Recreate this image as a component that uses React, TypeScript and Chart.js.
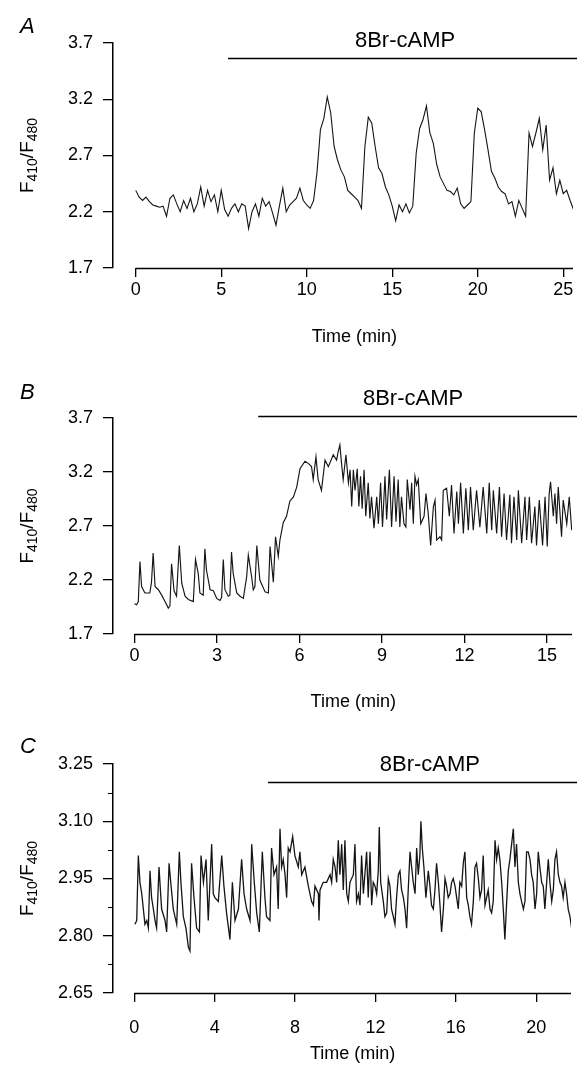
import React, { useEffect, useRef } from 'react';
import { Chart, registerables } from 'chart.js';

Chart.register(...registerables);

const FONT = '"Liberation Sans", Arial, Helvetica, sans-serif';
const DRUG_LABEL = '8Br-cAMP';
const X_TITLE = 'Time (min)';

// ---------- Panel A (sampled every 0.2 min) ----------
const A_START = 0;
const A_STEP = 0.2;
const A_VALUES = [
  2.39, 2.33, 2.30, 2.33, 2.29, 2.26, 2.25, 2.24, 2.25, 2.16,
  2.32, 2.35, 2.27, 2.20, 2.30, 2.23, 2.32, 2.20, 2.27, 2.42,
  2.25, 2.39, 2.29, 2.35, 2.20, 2.39, 2.22, 2.16, 2.23, 2.27,
  2.20, 2.27, 2.25, 2.05, 2.20, 2.27, 2.16, 2.32, 2.25, 2.29,
  2.19, 2.08, 2.25, 2.41, 2.20, 2.26, 2.29, 2.32, 2.41, 2.30,
  2.26, 2.23, 2.30, 2.55, 2.93, 3.03, 3.22, 3.08, 2.78, 2.66,
  2.57, 2.51, 2.39, 2.36, 2.33, 2.30, 2.23, 2.78, 3.04, 2.99,
  2.78, 2.59, 2.54, 2.42, 2.35, 2.25, 2.12, 2.26, 2.20, 2.27,
  2.19, 2.25, 2.72, 2.94, 3.02, 3.14, 2.90, 2.81, 2.62, 2.51,
  2.45, 2.39, 2.38, 2.35, 2.41, 2.27, 2.23, 2.26, 2.29, 2.90,
  3.12, 3.09, 2.93, 2.75, 2.56, 2.50, 2.42, 2.38, 2.36, 2.27,
  2.29, 2.16, 2.30, 2.23, 2.16, 2.90, 2.78, 2.90, 3.03, 2.75,
  2.97, 2.48, 2.59, 2.36, 2.48, 2.36, 2.39, 2.30, 2.22,
];
const A_X_TICKS = [0, 5, 10, 15, 20, 25];
const A_Y_TICKS = [1.7, 2.2, 2.7, 3.2, 3.7];

// ---------- Panel B (turning points) ----------
const B_TIMES = [
  0, 0.08, 0.14, 0.2, 0.26, 0.38, 0.56, 0.62, 0.68, 0.75,
  0.87, 0.99, 1.11, 1.23, 1.29, 1.35, 1.44, 1.53, 1.63, 1.72,
  1.84, 1.96, 2.14, 2.22, 2.32, 2.38, 2.5, 2.56, 2.62, 2.75,
  2.87, 2.99, 3.11, 3.17, 3.23, 3.29, 3.41, 3.47, 3.53, 3.59,
  3.72, 3.84, 3.96, 4.08, 4.14, 4.26, 4.32, 4.38, 4.45, 4.56,
  4.75, 4.87, 4.93, 5.05, 5.13, 5.23, 5.29, 5.41, 5.53, 5.65,
  5.78, 5.9, 6.02, 6.2, 6.32, 6.44, 6.5, 6.6, 6.68, 6.8,
  6.93, 7.05, 7.23, 7.35, 7.41, 7.47,
  7.53, 7.59, 7.69, 7.78, 7.84, 7.9, 7.96, 8.02, 8.1, 8.16,
  8.22, 8.28, 8.35, 8.41, 8.5, 8.56, 8.62, 8.71, 8.81, 8.87,
  8.95, 9.02, 9.11, 9.17, 9.27, 9.35, 9.44, 9.51, 9.59, 9.65,
  9.71, 9.8, 9.87, 9.92, 10.02, 10.08, 10.14, 10.2, 10.26, 10.32,
  10.41, 10.53, 10.6, 10.68, 10.77, 10.87, 10.93, 10.99, 11.11, 11.17,
  11.23, 11.35, 11.45, 11.53, 11.62, 11.72, 11.78, 11.86, 11.96, 12.05,
  12.14, 12.22, 12.32, 12.44, 12.56, 12.68, 12.81, 12.9, 12.99, 13.05,
  13.17, 13.27, 13.35, 13.44, 13.53, 13.65, 13.71, 13.8, 13.9, 13.96,
  14.08, 14.2, 14.26, 14.36, 14.44, 14.56, 14.62, 14.72, 14.84, 14.93,
  15.01, 15.08, 15.13, 15.23, 15.29, 15.35, 15.41, 15.53, 15.59, 15.72,
  15.81, 15.9,
];
const B_VALUES = [
  1.98, 1.97, 2.00, 2.37, 2.14, 2.08, 2.08, 2.18, 2.45, 2.14,
  2.11, 2.06, 2.00, 1.94, 1.96, 2.35, 2.10, 2.05, 2.52, 2.17,
  2.05, 2.02, 2.00, 2.39, 2.26, 2.08, 2.06, 2.49, 2.29, 2.11,
  2.10, 2.03, 2.01, 2.04, 2.39, 2.11, 2.05, 2.06, 2.46, 2.26,
  2.08, 2.05, 2.03, 2.23, 2.43, 2.23, 2.11, 2.14, 2.52, 2.20,
  2.09, 2.08, 2.51, 2.18, 2.60, 2.42, 2.57, 2.73, 2.79, 2.93,
  2.97, 3.06, 3.23, 3.30, 3.28, 3.25, 3.13, 3.34, 3.13, 3.03,
  3.31, 3.25, 3.36, 3.31, 3.39, 3.45,
  3.28, 3.13, 3.36, 3.10, 3.22, 2.88, 3.22, 3.03, 3.23, 2.88,
  3.16, 2.86, 3.22, 2.79, 3.10, 2.77, 2.97, 2.68, 2.97, 2.72,
  3.10, 2.69, 3.16, 2.76, 3.22, 2.69, 3.16, 2.74, 3.13, 2.69,
  2.97, 2.72, 2.69, 3.13, 2.85, 3.10, 2.72, 3.16, 3.08, 3.13,
  2.72, 2.79, 3.00, 2.82, 2.52, 2.88, 2.94, 2.57, 2.60, 2.57,
  3.03, 3.05, 2.79, 3.08, 2.63, 3.02, 2.72, 3.10, 2.63, 3.05,
  2.66, 3.06, 2.66, 3.03, 2.69, 3.06, 2.63, 3.10, 2.66, 3.03,
  2.63, 3.06, 2.60, 3.00, 2.57, 2.99, 2.54, 2.97, 2.57, 3.03,
  2.54, 2.97, 2.57, 2.97, 2.54, 2.88, 2.52, 2.94, 2.52, 2.97,
  2.51, 3.00, 3.11, 2.79, 3.00, 2.72, 3.06, 2.60, 2.94, 2.72,
  2.97, 2.66,
];
const B_X_TICKS = [0, 3, 6, 9, 12, 15];
const B_Y_TICKS = [1.7, 2.2, 2.7, 3.2, 3.7];

// ---------- Panel C (turning points) ----------
const C_TIMES = [
  0.03, 0.12, 0.2, 0.28, 0.37, 0.45, 0.53, 0.62, 0.7, 0.78,
  0.86, 0.95, 1.03, 1.11, 1.23, 1.31, 1.36, 1.53, 1.61, 1.73,
  1.83, 1.94, 2.11, 2.24, 2.32, 2.44, 2.57, 2.69, 2.77, 2.85,
  2.97, 3.1, 3.24, 3.32, 3.44, 3.57, 3.68, 3.85, 3.93, 4.01,
  4.18, 4.35, 4.46, 4.59, 4.76, 4.88, 5.01, 5.18, 5.34, 5.46,
  5.59, 5.76, 5.84, 5.97, 6.09, 6.22, 6.37, 6.5, 6.58, 6.75,
  6.83, 6.95, 7.08, 7.16, 7.25, 7.33, 7.41, 7.5, 7.58, 7.66,
  7.75, 7.88, 7.99, 8.16,
  8.24, 8.33, 8.49, 8.66, 8.82, 8.91, 8.99, 9.16, 9.19, 9.24,
  9.4, 9.57, 9.74, 9.82, 9.9, 9.99, 10.07, 10.15, 10.23, 10.32,
  10.4, 10.48, 10.57, 10.65, 10.73, 10.9, 10.98, 11.06, 11.15, 11.23,
  11.31, 11.4, 11.56, 11.64, 11.73, 11.81, 11.89, 11.98, 12.06, 12.14,
  12.19, 12.26, 12.39, 12.47, 12.56, 12.64, 12.72, 12.8, 12.89, 12.97,
  13.05, 13.14, 13.22, 13.3, 13.39, 13.47, 13.55, 13.63, 13.72, 13.8,
  13.88, 13.97, 14.05, 14.13, 14.21, 14.26, 14.33, 14.41, 14.51, 14.63,
  14.71, 14.79, 14.88, 14.96, 15.04, 15.13, 15.21, 15.29, 15.38, 15.46,
  15.54, 15.62, 15.71, 15.79, 15.87, 15.96, 16.04, 16.12, 16.2, 16.29,
  16.37, 16.45, 16.54, 16.62, 16.7, 16.78, 16.87, 16.95, 17.03, 17.12,
  17.2, 17.28, 17.36, 17.45, 17.53, 17.61, 17.7, 17.78, 17.86, 17.95,
  18.03, 18.11, 18.19, 18.28, 18.36, 18.44, 18.53, 18.61, 18.69, 18.86,
  18.94, 19.02, 19.11, 19.19, 19.27, 19.36, 19.44, 19.52, 19.6, 19.69,
  19.77, 19.85, 19.94, 20.02, 20.1, 20.18, 20.27, 20.35, 20.43, 20.52,
  20.6, 20.68, 20.77, 20.85, 20.93, 21.01, 21.1, 21.18, 21.26, 21.34,
  21.43, 21.51, 21.59, 21.68, 21.76,
];
const C_VALUES = [
  2.83, 2.84, 3.01, 2.94, 2.91, 2.87, 2.83, 2.84, 2.82, 2.97,
  2.90, 2.87, 2.84, 2.82, 2.98, 2.91, 2.87, 2.84, 2.81, 2.99,
  2.93, 2.87, 2.83, 3.02, 2.94, 2.85, 2.82, 2.77, 2.76, 2.99,
  2.90, 2.82, 2.81, 3.01, 2.94, 3.00, 2.84, 3.04, 2.91, 2.90,
  2.89, 3.01, 2.93, 2.86, 2.79, 2.94, 2.84, 2.87, 3.00, 2.91,
  2.87, 2.84, 3.04, 2.94, 2.86, 2.81, 3.02, 2.90, 2.85, 2.84,
  3.03, 2.96, 2.98, 2.87, 3.08, 2.98, 3.00, 2.96, 2.90, 3.03,
  3.02, 3.06, 3.01, 2.98,
  3.02, 2.96, 2.98, 2.93, 2.89, 2.88, 2.93, 2.91, 2.84, 2.92,
  2.94, 2.94, 2.96, 2.94, 3.00, 2.98, 2.94, 3.05, 2.96, 3.04,
  2.92, 3.05, 2.91, 2.89, 2.94, 2.96, 3.04, 2.89, 2.91, 2.88,
  3.01, 2.91, 3.02, 2.90, 3.02, 2.88, 2.94, 2.93, 2.91, 2.97,
  3.085, 2.94, 2.89, 2.85, 2.86, 2.95, 2.93, 2.87, 2.85, 2.83,
  2.90, 2.96, 2.97, 2.92, 2.90, 2.87, 2.82, 2.92, 3.02, 2.98,
  2.94, 2.91, 3.03, 2.96, 3.01, 3.10, 3.03, 2.98, 2.90, 2.97,
  2.93, 2.88, 2.87, 2.92, 2.99, 2.94, 2.88, 2.81, 2.87, 2.95,
  2.93, 2.90, 2.91, 2.94, 2.95, 2.93, 2.90, 2.87, 2.94, 2.93,
  2.99, 3.02, 2.90, 2.88, 2.85, 2.83, 2.89, 2.98, 2.99, 2.95,
  2.90, 2.92, 3.01, 2.88, 2.90, 2.92, 2.87, 2.86, 2.89, 3.05,
  3.00, 3.03, 3.00, 2.94, 2.87, 2.79, 2.89, 2.97, 3.00, 3.08,
  2.98, 3.04, 2.94, 2.91, 2.89, 2.87, 2.89, 3.02, 3.02, 3.00,
  2.96, 2.94, 2.87, 2.91, 3.02, 2.98, 2.94, 2.93, 2.87, 2.94,
  3.00, 2.94, 2.89, 2.92, 3.00, 3.02, 2.96, 2.94, 2.93, 2.90,
  2.94, 2.91, 2.87, 2.85, 2.82,
];
const C_X_TICKS = [0, 4, 8, 12, 16, 20];
const C_Y_TICKS = [2.65, 2.8, 2.95, 3.1, 3.25];
const C_Y_MINOR = [2.725, 2.875, 3.025, 3.175];

type Pt = { x: number; y: number };

type PanelCfg = {
  letter: string;
  top: number;
  height: number;
  points: Pt[];
  lineWidth: number;
  xMin: number;
  xMax: number;
  yMin: number;
  yMax: number;
  xTicks: number[];
  yTicks: number[];
  yMinor: number[];
  yDecimals: number;
  padTop: number;
  padRight: number;
  xAxisH: number;
  xTickPad: number;
  drugStart: number;
  drugLevel: number;
  drugLabelT: number;
  letterBaseline: number;
  xTitleY: number;
};

const pairs = (t: number[], v: number[]): Pt[] => {
  const n = Math.min(t.length, v.length);
  const out: Pt[] = [];
  for (let i = 0; i < n; i++) out.push({ x: t[i], y: v[i] });
  return out;
};

const PANELS: PanelCfg[] = [
  {
    letter: 'A', top: 0, height: 350,
    points: A_VALUES.map((v, i) => ({ x: A_START + i * A_STEP, y: v })),
    lineWidth: 1.1,
    xMin: -1.33, xMax: 25.57, yMin: 1.7, yMax: 3.7,
    xTicks: A_X_TICKS, yTicks: A_Y_TICKS, yMinor: [], yDecimals: 1,
    padTop: 43, padRight: 4, xAxisH: 82, xTickPad: 2,
    drugStart: 5.4, drugLevel: 3.567, drugLabelT: 15.75,
    letterBaseline: 33, xTitleY: 337,
  },
  {
    letter: 'B', top: 350, height: 370,
    points: pairs(B_TIMES, B_VALUES),
    lineWidth: 1.15,
    xMin: -0.78, xMax: 15.91, yMin: 1.7, yMax: 3.7,
    xTicks: B_X_TICKS, yTicks: B_Y_TICKS, yMinor: [], yDecimals: 1,
    padTop: 68, padRight: 5, xAxisH: 86, xTickPad: 2,
    drugStart: 4.5, drugLevel: 3.72, drugLabelT: 10.13,
    letterBaseline: 49, xTitleY: 352,
  },
  {
    letter: 'C', top: 720, height: 351,
    points: pairs(C_TIMES, C_VALUES),
    lineWidth: 1.3,
    xMin: -1.06, xMax: 21.73, yMin: 2.65, yMax: 3.25,
    xTicks: C_X_TICKS, yTicks: C_Y_TICKS, yMinor: C_Y_MINOR, yDecimals: 2,
    padTop: 44, padRight: 6, xAxisH: 78, xTickPad: 15,
    drugStart: 6.65, drugLevel: 3.203, drugLabelT: 14.71,
    letterBaseline: 33, xTitleY: 334,
  },
];

function extrasPlugin(p: PanelCfg) {
  return {
    id: 'extras' + p.letter,
    afterDraw(chart: any) {
      const ctx: CanvasRenderingContext2D = chart.ctx;
      const xs = chart.scales.x;
      const ys = chart.scales.y;
      const a = chart.chartArea;
      ctx.save();
      ctx.strokeStyle = '#000';
      ctx.fillStyle = '#000';

      // x axis line, starting at the first tick
      const x0 = xs.getPixelForValue(p.xTicks[0]);
      ctx.lineWidth = 1.5;
      ctx.beginPath();
      ctx.moveTo(x0, a.bottom + 0.5);
      ctx.lineTo(a.right, a.bottom + 0.5);
      ctx.stroke();

      // minor y ticks
      ctx.lineWidth = 1;
      p.yMinor.forEach((v) => {
        const y = Math.round(ys.getPixelForValue(v)) + 0.5;
        ctx.beginPath();
        ctx.moveTo(a.left - 5, y);
        ctx.lineTo(a.left, y);
        ctx.stroke();
      });

      // drug application bar
      const by = Math.round(ys.getPixelForValue(p.drugLevel)) + 0.5;
      ctx.lineWidth = 1.6;
      ctx.beginPath();
      ctx.moveTo(xs.getPixelForValue(p.drugStart), by);
      ctx.lineTo(chart.width, by);
      ctx.stroke();
      ctx.font = `22px ${FONT}`;
      ctx.textAlign = 'center';
      ctx.textBaseline = 'middle';
      ctx.fillText(DRUG_LABEL, xs.getPixelForValue(p.drugLabelT), by - 18);

      // panel letter
      ctx.font = `italic 22px ${FONT}`;
      ctx.textAlign = 'left';
      ctx.textBaseline = 'alphabetic';
      ctx.fillText(p.letter, 20, p.letterBaseline);

      // x title
      ctx.font = `18px ${FONT}`;
      ctx.textAlign = 'center';
      ctx.textBaseline = 'middle';
      ctx.fillText(X_TITLE, (x0 + a.right) / 2, p.xTitleY);

      // y title F410/F480 (rotated, with subscripts)
      const parts = [
        { t: 'F', s: 19, dy: 0 },
        { t: '410', s: 14, dy: 4 },
        { t: '/F', s: 19, dy: 0 },
        { t: '480', s: 14, dy: 4 },
      ];
      let total = 0;
      const widths = parts.map((q) => {
        ctx.font = `${q.s}px ${FONT}`;
        const w = ctx.measureText(q.t).width;
        total += w;
        return w;
      });
      ctx.translate(33, (a.top + a.bottom) / 2);
      ctx.rotate(-Math.PI / 2);
      ctx.textAlign = 'left';
      ctx.textBaseline = 'alphabetic';
      let cx = -total / 2;
      parts.forEach((q, i) => {
        ctx.font = `${q.s}px ${FONT}`;
        ctx.fillText(q.t, cx, q.dy);
        cx += widths[i];
      });
      ctx.restore();
    },
  };
}

function Panel({ cfg }: { cfg: PanelCfg }) {
  const ref = useRef<HTMLCanvasElement>(null);
  useEffect(() => {
    const canvas = ref.current;
    if (!canvas) return;
    const chart = new Chart(canvas, {
      type: 'line',
      data: {
        datasets: [
          {
            data: cfg.points as any,
            borderColor: '#151515',
            borderWidth: cfg.lineWidth,
            pointRadius: 0,
            tension: 0,
            fill: false,
          },
        ],
      },
      options: {
        responsive: false,
        animation: false,
        devicePixelRatio: 1,
        parsing: true,
        layout: { padding: { top: cfg.padTop, right: cfg.padRight, left: 0, bottom: 0 } },
        plugins: {
          legend: { display: false },
          tooltip: { enabled: false },
          title: { display: false },
        },
        scales: {
          x: {
            type: 'linear',
            min: cfg.xMin,
            max: cfg.xMax,
            border: { display: false },
            grid: {
              display: true,
              drawOnChartArea: false,
              drawTicks: true,
              tickLength: 9,
              color: '#000',
              lineWidth: 1.3,
            },
            ticks: {
              font: { family: FONT, size: 18 },
              color: '#000',
              padding: cfg.xTickPad,
              autoSkip: false,
              maxRotation: 0,
              callback: (v: any) => String(v),
            },
            afterBuildTicks: (s: any) => {
              s.ticks = cfg.xTicks.map((v) => ({ value: v }));
            },
            afterFit: (s: any) => {
              s.height = cfg.xAxisH;
            },
          },
          y: {
            type: 'linear',
            min: cfg.yMin,
            max: cfg.yMax,
            border: { display: true, color: '#000', width: 1.5 },
            grid: {
              display: true,
              drawOnChartArea: false,
              drawTicks: true,
              tickLength: 10,
              color: '#000',
              lineWidth: 1.3,
            },
            ticks: {
              font: { family: FONT, size: 18 },
              color: '#000',
              padding: 10,
              autoSkip: false,
              callback: (v: any) => Number(v).toFixed(cfg.yDecimals),
            },
            afterBuildTicks: (s: any) => {
              s.ticks = cfg.yTicks.map((v) => ({ value: v }));
            },
            afterFit: (s: any) => {
              s.width = 113;
            },
          },
        },
      } as any,
      plugins: [extrasPlugin(cfg)],
    });
    return () => chart.destroy();
  }, [cfg]);
  return (
    <canvas
      ref={ref}
      width={577}
      height={cfg.height}
      style={{ position: 'absolute', left: 0, top: cfg.top, width: 577, height: cfg.height }}
    />
  );
}

export default function App() {
  return (
    <div
      style={{
        position: 'absolute',
        left: 0,
        top: 0,
        width: 577,
        height: 1071,
        background: '#fff',
        overflow: 'hidden',
      }}
    >
      {PANELS.map((p) => (
        <Panel key={p.letter} cfg={p} />
      ))}
    </div>
  );
}
